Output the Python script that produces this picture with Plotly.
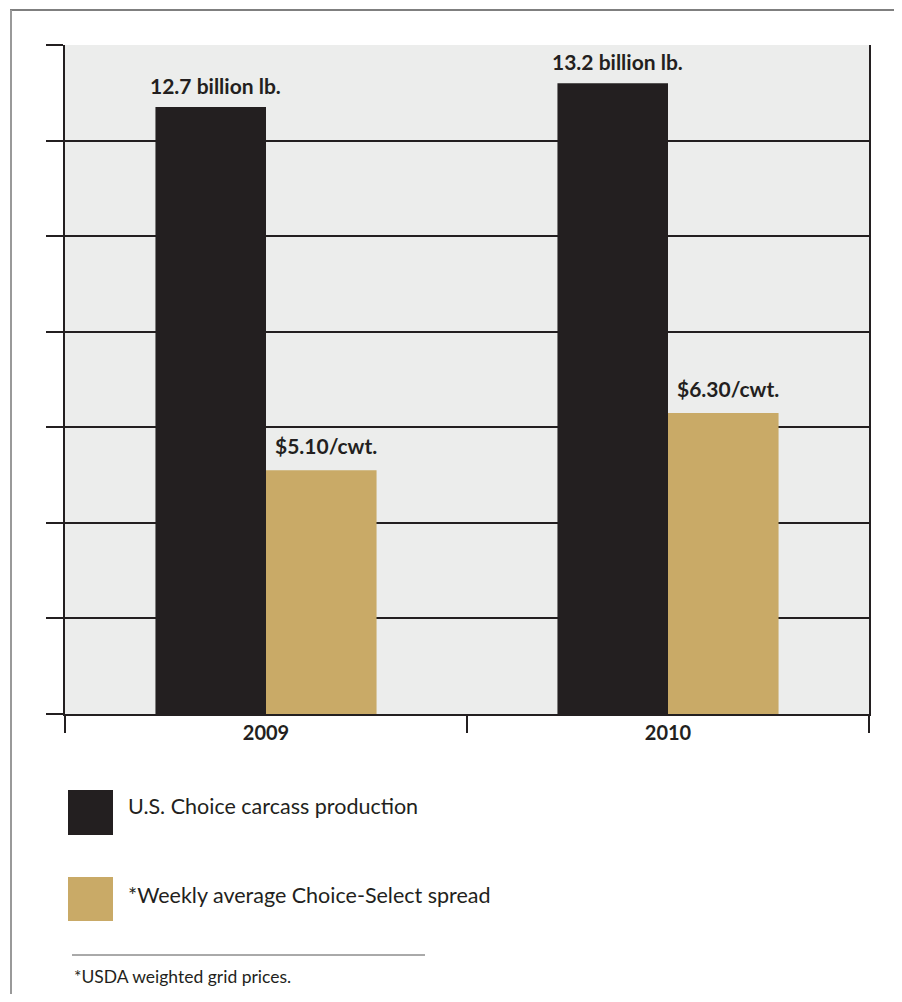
import plotly.graph_objects as go

years = ["2009", "2010"]
production = [12.7, 13.2]            # billion lb.
production_labels = ["12.7 billion lb.", "13.2 billion lb."]
spread = [5.10, 6.30]                # $/cwt.
spread_labels = ["$5.10/cwt.", "$6.30/cwt."]
series_names = ["U.S. Choice carcass production", "*Weekly average Choice-Select spread"]
footnote = "*USDA weighted grid prices."

DARK = "#231f20"
GOLD = "#c9aa67"
BG = "#ecedec"
FONT = "Lato"

fig = go.Figure()
fig.add_trace(go.Bar(x=years, y=production, name=series_names[0],
                     marker=dict(color=DARK, line=dict(width=0))))
fig.add_trace(go.Bar(x=years, y=spread, name=series_names[1],
                     marker=dict(color=GOLD, line=dict(width=0))))

# value labels above each bar (x given as category index)
for i, (v, t) in enumerate(zip(production, production_labels)):
    fig.add_annotation(x=i, y=v, text=t, xref="x", yref="y", showarrow=False,
                       xshift=-51, yshift=7, yanchor="bottom",
                       font=dict(family=FONT, size=21, color=DARK, weight=700))
for i, (v, t) in enumerate(zip(spread, spread_labels)):
    fig.add_annotation(x=i, y=v, text=t, xref="x", yref="y", showarrow=False,
                       xshift=60, yshift=10, yanchor="bottom",
                       font=dict(family=FONT, size=21, color=DARK, weight=700))

OFF = 8  # page body margin
W, H = 902 - 2 * OFF, 1002 - 2 * OFF
L, T = 65 - OFF, 45 - OFF
R = W - (869 - OFF)
B = H - (714 - OFF)
pw, ph = W - L - R, H - T - B

def px(xs):
    return (xs - OFF - L) / pw

def py(ys):
    return (H - B - (ys - OFF)) / ph

shapes = []
# outer frame
shapes.append(dict(type="line", xref="paper", yref="paper", x0=px(10), x1=px(905),
                   y0=py(10), y1=py(10), line=dict(color="#555555", width=1.5)))
shapes.append(dict(type="line", xref="paper", yref="paper", x0=px(11), x1=px(11),
                   y0=py(10), y1=py(1005), line=dict(color="#999999", width=2)))
# legend swatches
shapes.append(dict(type="rect", xref="paper", yref="paper", x0=px(68), x1=px(113),
                   y0=py(835), y1=py(790), fillcolor=DARK, line=dict(width=0)))
shapes.append(dict(type="rect", xref="paper", yref="paper", x0=px(68), x1=px(113),
                   y0=py(921), y1=py(877), fillcolor=GOLD, line=dict(width=0)))
# footnote rule
shapes.append(dict(type="line", xref="paper", yref="paper", x0=px(72), x1=px(425),
                   y0=py(955), y1=py(955), line=dict(color="#555555", width=1)))

annos = [
    dict(x=px(126), y=py(806), text=series_names[0]),
    dict(x=px(126), y=py(895), text=series_names[1]),
]
for a in annos:
    fig.add_annotation(xref="paper", yref="paper", xanchor="left", yanchor="middle",
                       showarrow=False, font=dict(family=FONT, size=21.5, color=DARK), **a)
fig.add_annotation(xref="paper", yref="paper", x=px(72), y=py(976), text=footnote,
                   xanchor="left", yanchor="middle", showarrow=False,
                   font=dict(family=FONT, size=17.5, color=DARK))

fig.update_layout(
    width=W, height=H,
    margin=dict(l=L, r=R, t=T, b=B, pad=0),
    paper_bgcolor="white", plot_bgcolor=BG,
    barmode="group", bargap=0.45, bargroupgap=0,
    showlegend=False,
    shapes=shapes,
    font=dict(family=FONT, color=DARK),
    xaxis=dict(type="category", range=[-0.5, 1.5], tickson="boundaries",
               ticks="outside", ticklen=17, tickwidth=2, tickcolor=DARK,
               showline=True, linecolor=DARK, linewidth=2, mirror=False,
               showgrid=False, ticklabelstandoff=0,
               tickfont=dict(family=FONT, size=20, color=DARK, weight=700)),
    yaxis=dict(range=[0, 14], dtick=2, showticklabels=False,
               ticks="outside", ticklen=17, tickwidth=2, tickcolor=DARK,
               showgrid=True, gridcolor=DARK, gridwidth=2,
               showline=True, linecolor=DARK, linewidth=2, mirror=True,
               zeroline=False),
)

fig.write_html("out.html")
